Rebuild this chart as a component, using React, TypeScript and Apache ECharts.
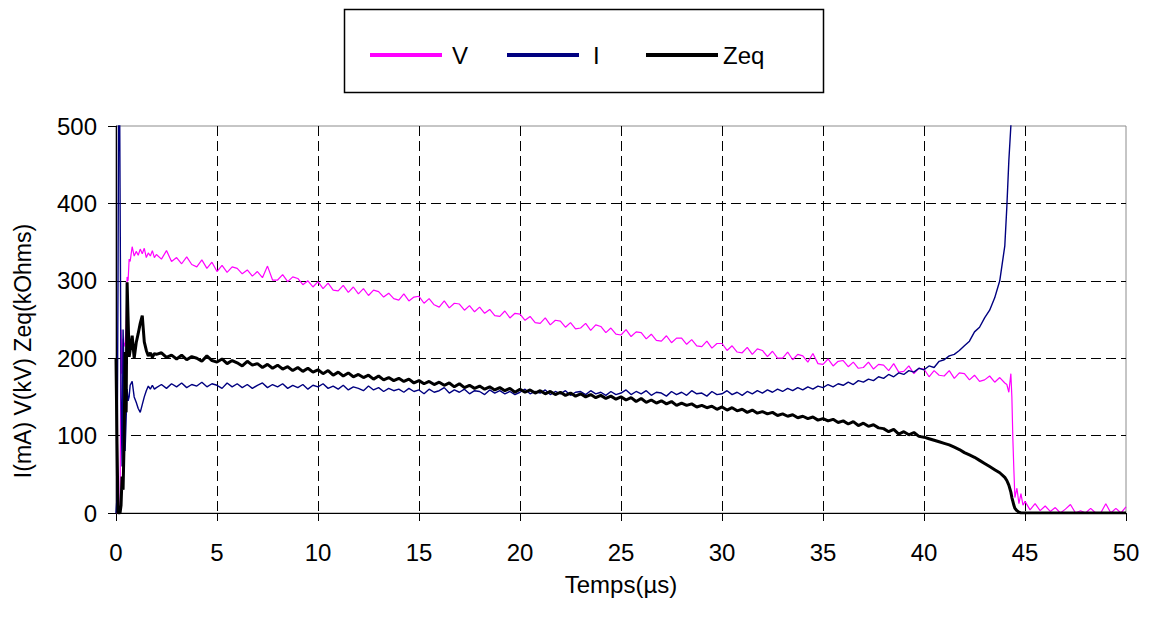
import React, { useEffect, useRef } from "react";
import * as echarts from "echarts";

// Sample times (µs)
const START_T = [0, 0.05, 0.1, 0.15, 0.2, 0.25, 0.3, 0.35, 0.4, 0.45, 0.5, 0.55, 0.6, 0.65, 0.7, 0.8, 0.9, 1.0, 1.1, 1.2, 1.3, 1.4, 1.5, 1.6, 1.7, 1.8, 1.9, 2.0];
const BODY_STEP = 0.25;
const BODY_COUNT = 168; // 2.25 .. 44.0
const END_T = [44.1, 44.2, 44.3, 44.35, 44.4, 44.45, 44.5, 44.6, 44.7, 44.8, 44.9, 45,
  45.25, 45.5, 45.75, 46, 46.25, 46.5, 46.75, 47, 47.25, 47.5, 47.75, 48, 48.25, 48.5, 48.75, 49, 49.25, 49.5, 49.75, 50];

// V (kV)
const V_START = [0, 0, 0, 0, 5, 237, 180, 225, 215, 220, 240, 305, 300, 328, 325, 344, 332, 338, 333, 341, 335, 342, 330, 336, 332, 339, 330, 334];
const V_BODY = [
  328, 339, 325,
  330, 322, 331, 321,
  318, 327, 316, 324,
  312, 320, 311, 318,
  316, 309, 314, 306,
  312, 304, 319, 301,
  301, 308, 299, 305,
  303, 295, 300, 292,
  299, 290, 297, 288,
  287, 294, 285, 292,
  283, 290, 281, 288,
  286, 279, 284, 277,
  275, 283, 274, 279,
  280, 271, 277, 269,
  266, 274, 265, 271,
  270, 262, 268, 260,
  266, 258, 263, 255,
  254, 261, 252, 258,
  257, 249, 254, 246,
  245, 252, 243, 249,
  248, 240, 246, 238,
  239, 245, 236, 243,
  241, 233, 239, 231,
  230, 237, 228, 234,
  233, 225, 231, 223,
  222, 229, 220, 226,
  226, 218, 224, 216,
  215, 222, 213, 219,
  219, 210, 216, 208,
  207, 214, 205, 212,
  210, 202, 209, 200,
  200, 208, 198, 205,
  203, 195, 206, 193,
  192, 199, 190, 196,
  197, 189, 195, 187,
  188, 195, 186, 192,
  191, 184, 193, 182,
  183, 190, 180, 187,
  186, 176, 184, 178,
  177, 184, 174, 181,
  180, 172, 178, 170,
  172, 177, 169, 175,
  168,
];
const V_END = [166, 156, 180, 150, 95, 55, 20, 32, 12, 25, 10, 15,
  4, 12, 3, 9, 2, 7, 0, 5, 11, 0, 3, 0, 6, 0, 0, 12, 0, 6, 0, 8];

// I (mA)
const I_START = [0, 20, 300, 700, 420, 150, 60, 237, 180, 80, 120, 160, 145, 150, 165, 170, 150, 143, 135, 130, 140, 150, 158, 164, 160, 165, 160, 162];
const I_BODY = [
  166, 161, 167,
  163, 168, 162, 166,
  164, 169, 163, 167,
  165, 161, 168, 163,
  167, 162, 166, 161,
  165, 168, 162, 166,
  163, 167, 161, 165,
  162, 166, 160, 165,
  163, 167, 161, 164,
  160, 165, 159, 163,
  161, 158, 164, 159,
  162, 157, 161, 158,
  160, 156, 161, 157,
  159, 154, 160, 156,
  158, 162, 155, 159,
  156, 160, 154, 158,
  157, 153, 159, 155,
  158, 154, 157, 153,
  156, 160, 154, 157,
  155, 159, 153, 157,
  154, 158, 152, 156,
  157, 153, 158, 154,
  156, 152, 157, 153,
  155, 159, 153, 157,
  154, 158, 152, 156,
  155, 151, 157, 153,
  156, 152, 158, 154,
  155, 151, 157, 153,
  154, 158, 153, 156,
  152, 157, 154, 158,
  155, 159, 156, 160,
  157, 161, 158, 162,
  159, 163, 160, 164,
  162, 166, 163, 167,
  165, 169, 166, 171,
  169, 173, 171, 176,
  174, 179, 176, 181,
  179, 184, 182, 187,
  185, 190, 188, 196,
  198, 203, 205, 210,
  216, 222, 234, 240,
  252, 262, 278, 300,
  345,
];
const I_END = [395, 455, 500, 540, null, null, null, null, null, null, null, null,
  null, null, null, null, null, null, null, null, null, null, null, null, null, null, null, null, null, null, null, null];

// Zeq (kOhms)
const Z_START = [200, 90, 0, 0, 0, 10, 47, 30, 90, 208, 130, 298, 250, 202, 210, 229, 200, 220, 232, 245, 255, 221, 210, 203, 207, 201, 206, 205];
const Z_BODY = [
  207, 201, 204,
  199, 204, 198, 202,
  200, 196, 203, 197,
  195, 199, 193, 197,
  194, 190, 196, 191,
  193, 188, 192, 187,
  191, 186, 189, 184,
  188, 183, 187, 182,
  185, 180, 184, 178,
  182, 177, 181, 176,
  179, 175, 178, 173,
  177, 172, 175, 171,
  174, 170, 173, 168,
  171, 167, 170, 166,
  169, 165, 168, 163,
  167, 162, 165, 161,
  164, 160, 163, 159,
  162, 158, 161, 156,
  160, 156, 159, 155,
  158, 154, 157, 153,
  156, 152, 155, 151,
  154, 150, 153, 149,
  152, 148, 151, 147,
  150, 146, 149, 144,
  148, 143, 146, 142,
  145, 141, 144, 139,
  142, 139, 141, 137,
  139, 136, 138, 134,
  137, 133, 136, 132,
  134, 130, 133, 129,
  131, 128, 130, 126,
  128, 125, 127, 123,
  125, 122, 124, 120,
  122, 119, 121, 117,
  119, 115, 118, 113,
  116, 112, 114, 110,
  109, 105, 108, 102,
  105, 101, 104, 99,
  98, 96, 94, 92,
  90, 88, 85, 82,
  78, 75, 72, 68,
  64, 60, 56, 52,
  46,
];
const Z_END = [42, 36, 27, 20, 15, 10, 6, 3, 1, 0, 0, 0,
  0, 0, 0, 0, 0, 0, 0, 0, 0, 0, 0, 0, 0, 0, 0, 0, 0, 0, 0, 0];

const X_TITLE = "Temps(µs)";
const Y_TITLE = "I(mA) V(kV) Zeq(kOhms)";
const SERIES_NAMES = ["V", "I", "Zeq"];

const FONT = "'Liberation Sans', Arial, sans-serif";

function buildTimes(): number[] {
  const body: number[] = [];
  for (let k = 1; k <= BODY_COUNT; k++) body.push(2 + k * BODY_STEP);
  return [...START_T, ...body, ...END_T];
}

export default function App() {
  const ref = useRef<HTMLDivElement>(null);
  useEffect(() => {
    if (!ref.current) return;
    const chart = echarts.init(ref.current, null, { renderer: "svg" });
    const T = buildTimes();
    const V = [...V_START, ...V_BODY, ...V_END];
    const I = [...I_START, ...I_BODY, ...I_END];
    const Z = [...Z_START, ...Z_BODY, ...Z_END];
    const pairs = (ys: (number | null)[]) => T.map((t, i) => [t, ys[i] ?? null]);

    const legendBase = {
      top: 43,
      padding: 0,
      icon: "rect",
      itemWidth: 72,
      itemHeight: 4,
      textStyle: { fontSize: 24, fontFamily: FONT, color: "#000" },
    };

    chart.setOption({
      animation: false,
      backgroundColor: "#fff",
      grid: {
        left: 116,
        right: 23,
        top: 126,
        bottom: 108,
        show: true,
        borderColor: "#8c8c8c",
        borderWidth: 1,
      },
      legend: [
        { ...legendBase, data: [SERIES_NAMES[0]], left: 370, textStyle: { ...legendBase.textStyle, padding: [0, 0, 0, 5] } },
        { ...legendBase, data: [SERIES_NAMES[1]], left: 507, textStyle: { ...legendBase.textStyle, padding: [0, 0, 0, 9] } },
        { ...legendBase, data: [SERIES_NAMES[2]], left: 646 },
      ],
      graphic: [
        {
          type: "rect",
          shape: { x: 344.5, y: 9.5, width: 479, height: 83 },
          style: { fill: "none", stroke: "#000", lineWidth: 1.5 },
          silent: true,
        },
        {
          type: "text",
          x: 23,
          y: 351,
          rotation: Math.PI / 2,
          style: {
            text: Y_TITLE,
            fontSize: 23,
            fontFamily: FONT,
            fill: "#000",
            align: "center",
            verticalAlign: "middle",
          },
        },
      ],
      xAxis: {
        type: "value",
        min: 0,
        max: 50,
        interval: 5,
        name: X_TITLE,
        nameLocation: "middle",
        nameGap: 59,
        nameTextStyle: { fontSize: 24, fontFamily: FONT, color: "#000" },
        axisLine: { show: true, onZero: false, lineStyle: { color: "#000", width: 1.2 } },
        axisTick: { show: true, length: 8, lineStyle: { color: "#000" } },
        axisLabel: { fontSize: 24, fontFamily: FONT, color: "#000", margin: 27 },
        splitLine: {
          show: true,
          showMinLine: false,
          showMaxLine: false,
          lineStyle: { color: "#000", type: [10, 5], width: 1 },
        },
      },
      yAxis: {
        type: "value",
        min: 0,
        max: 500,
        interval: 100,
        axisLine: { show: true, onZero: false, lineStyle: { color: "#000", width: 1.2 } },
        axisTick: { show: true, length: 8, lineStyle: { color: "#000" } },
        axisLabel: { fontSize: 24, fontFamily: FONT, color: "#000", margin: 19 },
        splitLine: {
          show: true,
          showMinLine: false,
          showMaxLine: false,
          lineStyle: { color: "#000", type: [10, 5], width: 1 },
        },
      },
      series: [
        {
          name: SERIES_NAMES[0],
          type: "line",
          data: pairs(V),
          showSymbol: false,
          clip: true,
          color: "#ff00ff",
          lineStyle: { color: "#ff00ff", width: 1.2 },
        },
        {
          name: SERIES_NAMES[1],
          type: "line",
          data: pairs(I),
          showSymbol: false,
          clip: true,
          color: "#000080",
          lineStyle: { color: "#000080", width: 1.4 },
        },
        {
          name: SERIES_NAMES[2],
          type: "line",
          data: pairs(Z),
          showSymbol: false,
          clip: true,
          color: "#000000",
          lineStyle: { color: "#000000", width: 3 },
        },
      ],
    });
    return () => chart.dispose();
  }, []);

  return (
    <div
      ref={ref}
      style={{ position: "absolute", left: 0, top: 0, width: 1149, height: 621 }}
    />
  );
}
